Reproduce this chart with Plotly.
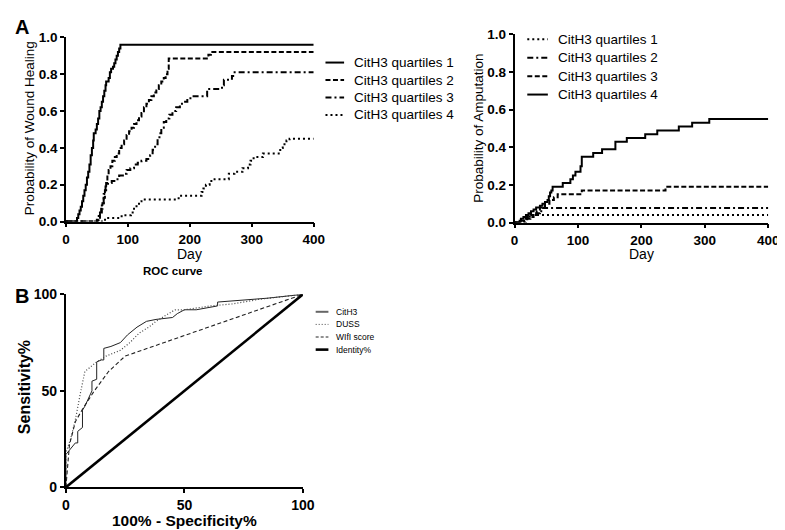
import plotly.graph_objects as go

W, H = 785, 530
FONT = 'Liberation Sans'

# --- Panel A (left): probability of wound healing by CitH3 quartile ---
heal_q1_day = [0, 16, 18, 20, 22, 24, 26, 28, 30, 32, 34, 36, 38, 40, 42, 44, 45, 48, 50, 52, 54, 56,
               58, 60, 62, 64, 65, 69, 71, 73, 76, 78, 80, 82, 84, 86, 88, 400]
heal_q1_p = [0, 0, 0.02, 0.04, 0.06, 0.08, 0.11, 0.14, 0.17, 0.20, 0.24, 0.27, 0.31, 0.36, 0.40, 0.44,
             0.48, 0.50, 0.53, 0.56, 0.60, 0.62, 0.65, 0.68, 0.71, 0.74, 0.76, 0.78, 0.81, 0.83, 0.84,
             0.86, 0.88, 0.90, 0.92, 0.94, 0.96, 0.96]

heal_q2_day = [0, 50, 53, 55, 57, 59, 61, 63, 65, 67, 69, 72, 75, 79, 82, 86, 90, 94, 98, 102, 106,
               110, 114, 118, 122, 126, 130, 134, 138, 142, 146, 150, 154, 158, 161, 164, 166, 230, 234, 400]
heal_q2_p = [0, 0.01, 0.03, 0.05, 0.07, 0.10, 0.13, 0.17, 0.21, 0.25, 0.28, 0.30, 0.33, 0.35, 0.37,
             0.40, 0.42, 0.44, 0.47, 0.49, 0.51, 0.53, 0.55, 0.57, 0.59, 0.62, 0.64, 0.66, 0.68, 0.70,
             0.72, 0.74, 0.76, 0.78, 0.80, 0.83, 0.885, 0.905, 0.92, 0.92]

heal_q3_day = [0, 52, 55, 58, 61, 64, 68, 74, 80, 86, 92, 98, 104, 110, 116, 122, 130, 136, 140, 144,
               148, 151, 154, 158, 162, 167, 172, 178, 184, 190, 196, 204, 228, 252, 255, 268, 270, 400]
heal_q3_p = [0, 0.01, 0.05, 0.10, 0.15, 0.19, 0.21, 0.22, 0.23, 0.25, 0.26, 0.28, 0.29, 0.31, 0.32,
             0.33, 0.34, 0.36, 0.39, 0.42, 0.45, 0.48, 0.51, 0.54, 0.56, 0.58, 0.60, 0.62, 0.64, 0.65,
             0.67, 0.68, 0.72, 0.74, 0.77, 0.79, 0.81, 0.81]

heal_q4_day = [0, 61, 66, 90, 105, 110, 114, 118, 122, 182, 219, 222, 226, 232, 240, 263, 272, 285,
               294, 298, 303, 318, 346, 350, 356, 361, 400]
heal_q4_p = [0, 0.01, 0.02, 0.035, 0.05, 0.07, 0.09, 0.11, 0.12, 0.14, 0.16, 0.18, 0.20, 0.22, 0.23,
             0.26, 0.27, 0.29, 0.31, 0.33, 0.35, 0.37, 0.40, 0.42, 0.44, 0.45, 0.45]

# --- Panel A (right): probability of amputation by CitH3 quartile ---
amp_q1_day = [0, 18, 24, 400]
amp_q1_p = [0, 0.02, 0.04, 0.04]

amp_q2_day = [0, 15, 25, 35, 45, 400]
amp_q2_p = [0, 0.02, 0.04, 0.06, 0.077, 0.077]

amp_q3_day = [0, 10, 20, 30, 40, 48, 55, 62, 68, 106, 238, 400]
amp_q3_p = [0, 0.01, 0.03, 0.05, 0.08, 0.10, 0.12, 0.135, 0.15, 0.17, 0.19, 0.19]

amp_q4_day = [0, 8, 10, 14, 18, 22, 26, 30, 34, 40, 44, 48, 52, 54, 56, 58, 60, 76, 88, 92, 96, 104,
              106, 124, 138, 159, 177, 206, 225, 259, 280, 307, 400]
amp_q4_p = [0, 0.01, 0.02, 0.03, 0.04, 0.05, 0.06, 0.07, 0.08, 0.09, 0.10, 0.11, 0.12, 0.14, 0.16,
            0.17, 0.19, 0.21, 0.23, 0.25, 0.27, 0.30, 0.35, 0.37, 0.39, 0.43, 0.45, 0.47, 0.49, 0.51,
            0.53, 0.55, 0.55]

# --- Panel B: ROC curves ---
cith3_fpr = [0, 0, 4, 5, 5, 7, 7, 8, 11, 11, 13, 13, 15, 16, 16, 19, 23, 26, 30, 34, 38, 45, 47, 50,
             55, 60, 64, 64, 76, 85, 100]
cith3_sens = [0, 17, 23, 23, 29, 31, 40, 42, 50, 55, 56, 65, 66, 66, 72, 73, 75, 79, 83, 86, 87, 88,
              90, 92, 92, 93, 94, 96, 97, 98, 100]

duss_fpr = [0, 0, 2, 4, 6, 8, 10, 13, 17, 23, 27, 31, 35, 38, 42, 46, 50, 61, 70, 82, 100]
duss_sens = [0, 18, 25, 35, 48, 60, 62, 65, 68, 71, 75, 80, 83, 86, 89, 92, 92, 94, 95, 97.5, 100]

wifi_fpr = [0, 1.5, 4, 7, 12, 18, 25, 100]
wifi_sens = [0, 22, 34, 40.5, 50, 60, 68, 100]

identity_fpr = [0, 100]
identity_sens = [0, 100]

quartile_names = ['CitH3 quartiles 1', 'CitH3 quartiles 2', 'CitH3 quartiles 3', 'CitH3 quartiles 4']
roc_names = ['CitH3', 'DUSS', 'WIfI score', 'Identity%']


def px_x(v):
    return v / W


def px_y(v):
    return 1 - v / H


DASH_LONG = '5px,2.5px'
DASH_DOT = '6px,3px,2px,3px'
DOT = '2px,3px'

fig = go.Figure()

# wound healing curves
heal_styles = [('solid', 2), (DASH_LONG, 2), (DASH_DOT, 2), (DOT, 2)]
heal_data = [(heal_q1_day, heal_q1_p), (heal_q2_day, heal_q2_p),
             (heal_q3_day, heal_q3_p), (heal_q4_day, heal_q4_p)]
for name, (d, p), (dash, w) in zip(quartile_names, heal_data, heal_styles):
    fig.add_trace(go.Scatter(x=d, y=p, mode='lines', name=name, line_shape='hv',
                             line=dict(color='black', width=w, dash=dash),
                             xaxis='x', yaxis='y', cliponaxis=False, showlegend=False))

# amputation curves
amp_styles = [(DOT, 2), (DASH_DOT, 2), (DASH_LONG, 2), ('solid', 2)]
amp_data = [(amp_q1_day, amp_q1_p), (amp_q2_day, amp_q2_p),
            (amp_q3_day, amp_q3_p), (amp_q4_day, amp_q4_p)]
for name, (d, p), (dash, w) in zip(quartile_names, amp_data, amp_styles):
    fig.add_trace(go.Scatter(x=d, y=p, mode='lines', name=name, line_shape='hv',
                             line=dict(color='black', width=w, dash=dash),
                             xaxis='x2', yaxis='y2', cliponaxis=False, showlegend=False))

# ROC curves
roc_data = [(cith3_fpr, cith3_sens), (duss_fpr, duss_sens), (wifi_fpr, wifi_sens),
            (identity_fpr, identity_sens)]
roc_styles = [('#222', 1, 'solid'), ('#444', 1.2, '1px,2px'), ('#222', 1.1, '4px,2.5px'), ('black', 2.6, 'solid')]
for name, (fx, sy), (c, w, dash) in zip(roc_names, roc_data, roc_styles):
    fig.add_trace(go.Scatter(x=fx, y=sy, mode='lines', name=name,
                             line=dict(color=c, width=w, dash=dash),
                             xaxis='x3', yaxis='y3', cliponaxis=False, showlegend=False))

tick_font = dict(family=FONT, size=13.5, color='black', weight='bold')
axis_common = dict(showline=True, linecolor='black', linewidth=1.5, ticks='outside', ticklen=4,
                   tickwidth=1.5, tickcolor='black', showgrid=False, zeroline=False,
                   tickfont=tick_font)

fig.update_layout(
    width=W, height=H, margin=dict(l=0, r=0, t=0, b=0),
    paper_bgcolor='white', plot_bgcolor='white',
    xaxis=dict(axis_common, domain=[px_x(55), px_x(308)], range=[0, 400],
               tickvals=[0, 100, 200, 300, 400], anchor='y'),
    yaxis=dict(axis_common, domain=[px_y(212), px_y(22)], range=[0, 1],
               tickvals=[0, 0.2, 0.4, 0.6, 0.8, 1.0], tickformat='.1f', anchor='x'),
    xaxis2=dict(axis_common, domain=[px_x(513), px_x(772)], range=[0, 400],
                tickvals=[0, 100, 200, 300, 400], anchor='y2'),
    yaxis2=dict(axis_common, domain=[px_y(213), px_y(19)], range=[0, 1],
                tickvals=[0, 0.2, 0.4, 0.6, 0.8, 1.0], tickformat='.1f', anchor='x2'),
    xaxis3=dict(axis_common, domain=[px_x(55), px_x(297)], range=[0, 100], linewidth=2, tickwidth=2,
                tickvals=[0, 50, 100], anchor='y3', tickfont=dict(tick_font, size=14)),
    yaxis3=dict(axis_common, domain=[px_y(486), px_y(287)], range=[0, 100], linewidth=2, tickwidth=2,
                tickvals=[0, 50, 100], anchor='x3', tickfont=dict(tick_font, size=14)),
)

annotations = []
shapes = []


def text(s, x, y, size, bold=False, angle=0, xanchor='center'):
    annotations.append(dict(text=s, x=px_x(x), y=px_y(y), xref='paper', yref='paper',
                            showarrow=False, xanchor=xanchor, yanchor='middle', textangle=angle,
                            borderpad=0,
                            font=dict(family=FONT, size=size, color='black',
                                      weight='bold' if bold else 'normal')))


text('A', 2, 11, 20, bold=True, xanchor='left')
text('B', 2, 289, 20, bold=True, xanchor='left')
text('Probability of Wound Healing', 18, 116, 13.5, angle=-90)
text('Probability of Amputation', 476, 116, 13.5, angle=-90)
text('Day', 181, 245, 14)
text('Day', 643, 245, 14)
text('ROC curve', 164, 263, 11.5, bold=True)
text('Sensitivity%', 13, 383, 16, bold=True, angle=-90)
text('100% - Specificity%', 176, 520, 15.5, bold=True)

# manual legends
heal_leg_y = [48, 66, 84, 102]
for name, y, (dash, w) in zip(quartile_names, heal_leg_y, heal_styles):
    shapes.append(dict(type='line', xref='paper', yref='paper', x0=px_x(320), x1=px_x(339),
                       y0=px_y(y), y1=px_y(y), line=dict(color='black', width=w, dash=dash)))
    text(name, 348, y, 13.5, xanchor='left')

amp_leg_y = [24, 43, 62, 81]
for name, y, (dash, w) in zip(quartile_names, amp_leg_y, amp_styles):
    shapes.append(dict(type='line', xref='paper', yref='paper', x0=px_x(526), x1=px_x(547),
                       y0=px_y(y), y1=px_y(y), line=dict(color='black', width=w, dash=dash)))
    text(name, 556, y, 13.5, xanchor='left')

roc_leg_y = [305, 318, 331, 344]
roc_leg_styles = [('#666', 2, 'solid'), ('#444', 1, '1px,2px'), ('#222', 1, '3px,2px'), ('black', 2.6, 'solid')]
for name, y, (c, w, dash) in zip(roc_names, roc_leg_y, roc_leg_styles):
    shapes.append(dict(type='line', xref='paper', yref='paper', x0=px_x(310), x1=px_x(323),
                       y0=px_y(y), y1=px_y(y), line=dict(color=c, width=w, dash=dash)))
    text(name, 330, y, 8.5, xanchor='left')

fig.update_layout(annotations=annotations, shapes=shapes)

fig.write_html("out.html")
